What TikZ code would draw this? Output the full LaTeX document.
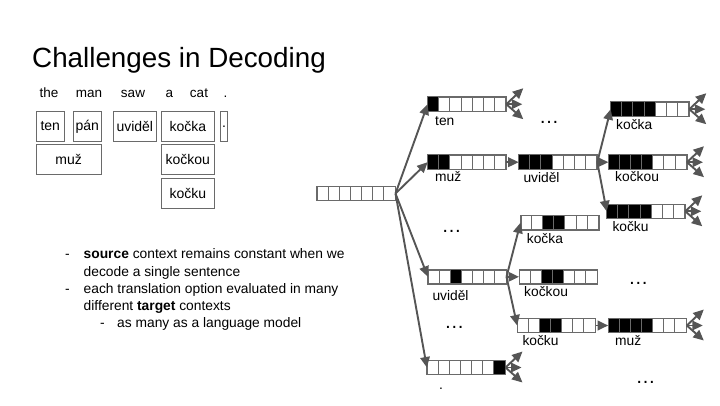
\documentclass[tikz,border=0pt]{standalone}
\usepackage{fontspec}
\setmainfont{Liberation Sans}
\usetikzlibrary{arrows.meta,calc}
\definecolor{ln}{HTML}{555555}
\definecolor{bx}{HTML}{6A6A6A}
\tikzset{
 wbox/.style={draw=bx, line width=0.9pt, inner sep=0, minimum height=29.6, font=\fontsize{14}{16}\selectfont},
 word/.style={inner sep=0, anchor=base, font=\fontsize{13.5}{16}\selectfont},
 arrnode/.style={draw=bx, line width=0.9pt, minimum width=77.7, minimum height=13.7, inner sep=0},
 lab/.style={inner sep=0, anchor=base west, font=\fontsize{13.8}{16}\selectfont},
 conn/.style={draw=ln, line width=1.9pt, -{Triangle[length=10.5pt,width=9.5pt]}},
 dotsn/.style={inner sep=0, anchor=base, font=\fontsize{20}{22}\selectfont},
 btxt/.style={inner sep=0, anchor=base west, font=\fontsize{13.8}{16}\selectfont},
 celline/.style={draw=bx, line width=0.9pt},
}
\newcommand\arrgrid[1]{%
 \foreach \k in {1,...,6} {\draw[celline] ($(#1.north west)+(\k*11.1,0)$) -- ++(0,13.7);}
 \draw[celline] (#1.north west) rectangle (#1.south east);}
\newcommand\arr[4]{%
 \node[arrnode] (#1) at (#2,#3) {};
 \foreach \k in {#4} {\fill[black] ($(#1.north west)+(\k*11.1,0)$) rectangle ++(11.1,13.7);}
 \arrgrid{#1}}
\newcommand\emptyarr[3]{%
 \node[arrnode] (#1) at (#2,#3) {};
 \arrgrid{#1}}
\newcommand\fan[1]{%
 \coordinate (#1f1) at ($(#1.east)+(17,-16)$);
 \coordinate (#1f2) at ($(#1.east)+(16,0)$);
 \coordinate (#1f3) at ($(#1.east)+(17,15)$);
 \draw[conn] (#1.east) -- (#1f1);
 \draw[conn] (#1.east) -- (#1f2);
 \draw[conn] (#1.east) -- (#1f3);}
\begin{document}
\begin{tikzpicture}[x=1pt,y=-1pt]
\useasboundingbox (0,0) rectangle (720,405);
\node[inner sep=0, anchor=base west, font=\fontsize{27.8}{30}\selectfont] (title) at (32,67.5) {Challenges in Decoding};
% source words
\node[word] (w1) at (49,97) {the};
\node[word] (w2) at (89,97) {man};
\node[word] (w3) at (133,97) {saw};
\node[word] (w4) at (169.5,97) {a};
\node[word] (w5) at (199,97) {cat};
\node[word] (w6) at (225.5,97) {.};
% translation options
\node[wbox, minimum width=28.7] (o1) at (50.3,126.5) {ten};
\node[wbox, minimum width=28] (o2) at (87.3,126.5) {pán};
\node[wbox, minimum width=43] (o3) at (134.8,126.5) {uviděl};
\node[wbox, minimum width=53] (o4) at (187.8,126.5) {kočka};
\node[wbox, minimum width=7.4] (o5) at (224,126.5) {.};
\node[wbox, minimum width=65.3] (o6) at (68.7,159.3) {muž};
\node[wbox, minimum width=53] (o7) at (187.8,159.3) {kočkou};
\node[wbox, minimum width=53] (o8) at (187.8,193.2) {kočku};
% bullets
\node[btxt] (d1) at (65,258.5) {-};
\node[btxt] (b1) at (83.5,258.5) {\textbf{source} context remains constant when we};
\node[btxt] (b2) at (83.5,276) {decode a single sentence};
\node[btxt] (d2) at (65,293.5) {-};
\node[btxt] (b3) at (83.5,293.5) {each translation option evaluated in many};
\node[btxt] (b4) at (83.5,310.5) {different \textbf{target} contexts};
\node[btxt] (d3) at (100,327.5) {-};
\node[btxt] (b5) at (117,327.5) {as many as a language model};
% arrays
\emptyarr{root}{356.2}{193.5}
\arr{ten}{467}{104.2}{0}
\arr{muzA}{467}{162.2}{0,1}
\arr{uvA}{558}{162.2}{0,1,2}
\arr{kaA}{650}{109.2}{0,1,2,3}
\arr{kouA}{647.7}{162.2}{0,1,2,3}
\arr{kuA}{646}{211.3}{0,1,2,3}
\arr{kaB}{559.8}{222.7}{2,3}
\arr{uvB}{467.2}{276.8}{2}
\arr{kouB}{558.3}{276.8}{2,3}
\arr{kuB}{556.5}{325.5}{2,3}
\arr{muzB}{647.5}{325.5}{0,1,2,3}
\arr{dot}{466.2}{367.5}{6}
% labels
\node[lab] (l1) at (435,125.5) {ten};
\node[lab] (l2) at (435,181.5) {muž};
\node[lab] (l3) at (523.3,182) {uviděl};
\node[lab] (l4) at (616,129.3) {kočka};
\node[lab] (l5) at (615,181.7) {kočkou};
\node[lab] (l6) at (612.3,231.7) {kočku};
\node[lab] (l7) at (526.7,243.3) {kočka};
\node[lab] (l8) at (432.3,300) {uviděl};
\node[lab] (l9) at (524,296.7) {kočkou};
\node[lab] (l10) at (522.3,345) {kočku};
\node[lab] (l11) at (615,345) {muž};
\node[lab] (l12) at (439,389) {.};
% dots
\node[dotsn] (e1) at (549,123.5) {\ldots};
\node[dotsn] (e2) at (451.7,232.5) {\ldots};
\node[dotsn] (e3) at (638.3,284) {\ldots};
\node[dotsn] (e4) at (454.3,328) {\ldots};
\node[dotsn] (e5) at (645.7,383) {\ldots};
% connectors
\draw[conn] (root.east) -- (ten.west);
\draw[conn] (root.east) -- (muzA.west);
\draw[conn] (root.east) -- (uvB.west);
\draw[conn] (root.east) -- (dot.west);
\draw[conn] (muzA.east) -- (uvA.west);
\draw[conn] (uvA.east) -- (kaA.west);
\draw[conn] (uvA.east) -- (kouA.west);
\draw[conn] (uvA.east) -- (kuA.west);
\draw[conn] (uvB.east) -- (kaB.west);
\draw[conn] (uvB.east) -- (kouB.west);
\draw[conn] (uvB.east) -- (kuB.west);
\draw[conn] (kuB.east) -- (muzB.west);
\fan{ten}
\fan{kaA}
\fan{kouA}
\fan{kuA}
\fan{muzB}
\fan{dot}
\end{tikzpicture}
\end{document}
